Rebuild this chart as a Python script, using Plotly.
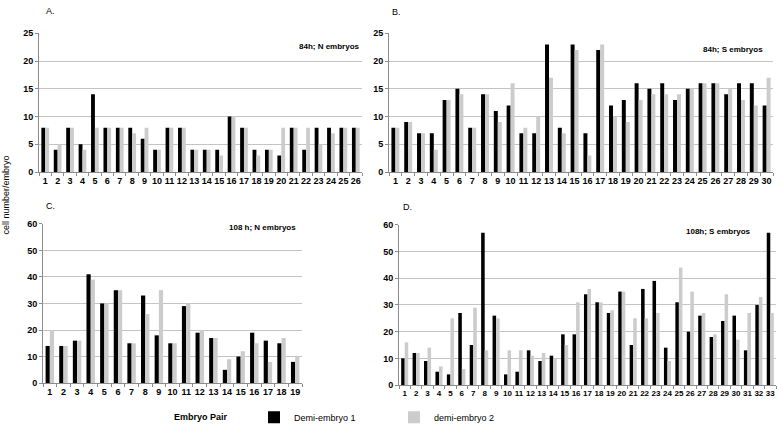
import plotly.graph_objects as go

# ---------------- data ----------------
a_pairs = [str(i) for i in range(1, 27)]
a_demi1 = [8, 4, 8, 5, 14, 8, 8, 8, 6, 4, 8, 8, 4, 4, 4, 10, 8, 4, 4, 3, 8, 4, 8, 8, 8, 8]
a_demi2 = [8, 5, 8, 4, 8, 8, 8, 7, 8, 4, 8, 8, 4, 4, 3, 10, 8, 3, 4, 8, 8, 8, 5, 7, 8, 8]

b_pairs = [str(i) for i in range(1, 31)]
b_demi1 = [8, 9, 7, 7, 13, 15, 8, 14, 11, 12, 7, 7, 23, 8, 23, 7, 22, 12, 13, 16,
           15, 16, 13, 15, 16, 16, 14, 16, 16, 12]
b_demi2 = [8, 9, 7, 4, 13, 14, 8, 14, 9, 16, 8, 10, 17, 7, 22, 3, 23, 10, 9, 13,
           14, 14, 14, 15, 16, 16, 15, 13, 12, 17]

c_pairs = [str(i) for i in range(1, 20)]
c_demi1 = [14, 14, 16, 41, 30, 35, 15, 33, 18, 15, 29, 19, 17, 5, 10, 19, 16, 15, 8]
c_demi2 = [20, 14, 16, 39, 30, 35, 15, 26, 35, 15, 30, 20, 17, 9, 12, 15, 8, 17, 10]

d_pairs = [str(i) for i in range(1, 34)]
d_demi1 = [10, 12, 9, 5, 4, 27, 15, 57, 26, 4, 5, 13, 9, 11, 19, 19, 34, 31, 27, 35,
           15, 36, 39, 14, 31, 20, 26, 18, 24, 26, 13, 30, 57]
d_demi2 = [16, 12, 14, 7, 25, 6, 29, 13, 25, 13, 13, 11, 12, 10, 15, 31, 36, 31, 28, 35,
           25, 25, 27, 9, 44, 35, 27, 19, 34, 17, 27, 33, 27]

panel_letters = ["A.", "B.", "C.", "D."]
panel_notes = ["84h; N embryos", "84h; S embryos", "108 h; N embryos", "108h; S embryos"]
series_names = ["Demi-embryo 1", "demi-embryo 2"]
legend_title = "Embryo Pair"
y_title = "cell number/embryo"

# ---------------- layout helpers ----------------
W, H = 777, 435
FONT = "Liberation Sans, Arial, sans-serif"
BLACK = "#000000"
GREY = "#cccccc"
GRID = "#c4c4c4"
AXIS = "#8c8c8c"


def px_x(x):
    return x / W


def px_y(y):
    return 1 - y / H


# pixel boxes: (left, right, top, bottom)
boxes = [
    (39, 362, 29, 171),
    (389, 773, 29, 171),
    (43, 302, 224, 387),
    (399, 776, 225, 389),
]
yranges = [[0, 25], [0, 25], [0, 60], [0, 60]]
ydticks = [5, 5, 10, 10]
panels = [
    (a_pairs, a_demi1, a_demi2),
    (b_pairs, b_demi1, b_demi2),
    (c_pairs, c_demi1, c_demi2),
    (d_pairs, d_demi1, d_demi2),
]
xfont_sizes = [9, 9, 9, 8]

fig = go.Figure()
layout = dict(
    width=W, height=H,
    margin=dict(l=0, r=0, t=0, b=0),
    paper_bgcolor="white", plot_bgcolor="white",
    barmode="group", bargap=0.38, bargroupgap=0.0,
    font=dict(family=FONT, color="#000000", size=9),
    showlegend=True,
)

annotations = []
for i, ((cats, s1, s2), box) in enumerate(zip(panels, boxes)):
    n = "" if i == 0 else str(i + 1)
    xa, ya = "x" + n, "y" + n
    fig.add_trace(go.Bar(x=cats, y=s1, name=series_names[0], marker=dict(color=BLACK, line=dict(width=0)),
                         xaxis=xa, yaxis=ya, showlegend=(i == 0), legendgroup="d1"))
    fig.add_trace(go.Bar(x=cats, y=s2, name=series_names[1], marker=dict(color=GREY, line=dict(width=0)),
                         xaxis=xa, yaxis=ya, showlegend=(i == 0), legendgroup="d2"))
    l, r, t, b = box
    layout["xaxis" + n] = dict(
        domain=[px_x(l), px_x(r)], anchor=ya, type="category",
        showline=True, linecolor=AXIS, linewidth=1,
        ticks="outside", ticklen=3, tickcolor=AXIS, tickson="boundaries",
        tickangle=0, dtick=1,
        tickfont=dict(family=FONT, size=xfont_sizes[i], weight="bold"),
        showgrid=False, fixedrange=True,
    )
    layout["yaxis" + n] = dict(
        domain=[px_y(b), px_y(t)], anchor=xa, range=yranges[i], dtick=ydticks[i],
        showline=True, linecolor=AXIS, linewidth=1,
        ticks="outside", ticklen=3, tickcolor=AXIS,
        showgrid=True, gridcolor=GRID, gridwidth=1, zeroline=False,
        tickfont=dict(family=FONT, size=9, weight="bold"),
        fixedrange=True,
    )

# panel letters
letter_pos = [(51, 6), (396, 7), (50, 206), (407, 207)]
for txt, (x, y) in zip(panel_letters, letter_pos):
    annotations.append(dict(text=txt, x=px_x(x), y=px_y(y), xref="paper", yref="paper",
                            showarrow=False, xanchor="center", yanchor="middle",
                            font=dict(family=FONT, size=9)))
# panel notes (right aligned)
note_pos = [(362, 42), (765, 46), (298, 228), (753, 232)]
for txt, (x, y) in zip(panel_notes, note_pos):
    annotations.append(dict(text=txt, x=px_x(x), y=px_y(y), xref="paper", yref="paper",
                            showarrow=False, xanchor="right", yanchor="middle",
                            font=dict(family=FONT, size=8, weight="bold")))
# y title
annotations.append(dict(text=y_title, x=px_x(6), y=px_y(195), xref="paper", yref="paper",
                        showarrow=False, textangle=-90, xanchor="center", yanchor="middle",
                        font=dict(family=FONT, size=9)))
# legend title
annotations.append(dict(text=legend_title, x=px_x(201), y=px_y(422), xref="paper", yref="paper",
                        showarrow=False, xanchor="center", yanchor="middle",
                        font=dict(family=FONT, size=9, weight="bold")))

layout["annotations"] = annotations
layout["legend"] = dict(
    orientation="h", x=px_x(254), y=px_y(422), xanchor="left", yanchor="middle",
    bgcolor="rgba(0,0,0,0)", font=dict(family=FONT, size=9),
    entrywidth=95, entrywidthmode="pixels", itemwidth=30,
    traceorder="normal", itemclick=False, itemdoubleclick=False,
)

fig.update_layout(**layout)
fig.write_html(
    "out.html",
    config={"displayModeBar": False, "staticPlot": False},
    post_script="document.body.style.margin='0px';document.body.style.overflow='hidden';",
)
